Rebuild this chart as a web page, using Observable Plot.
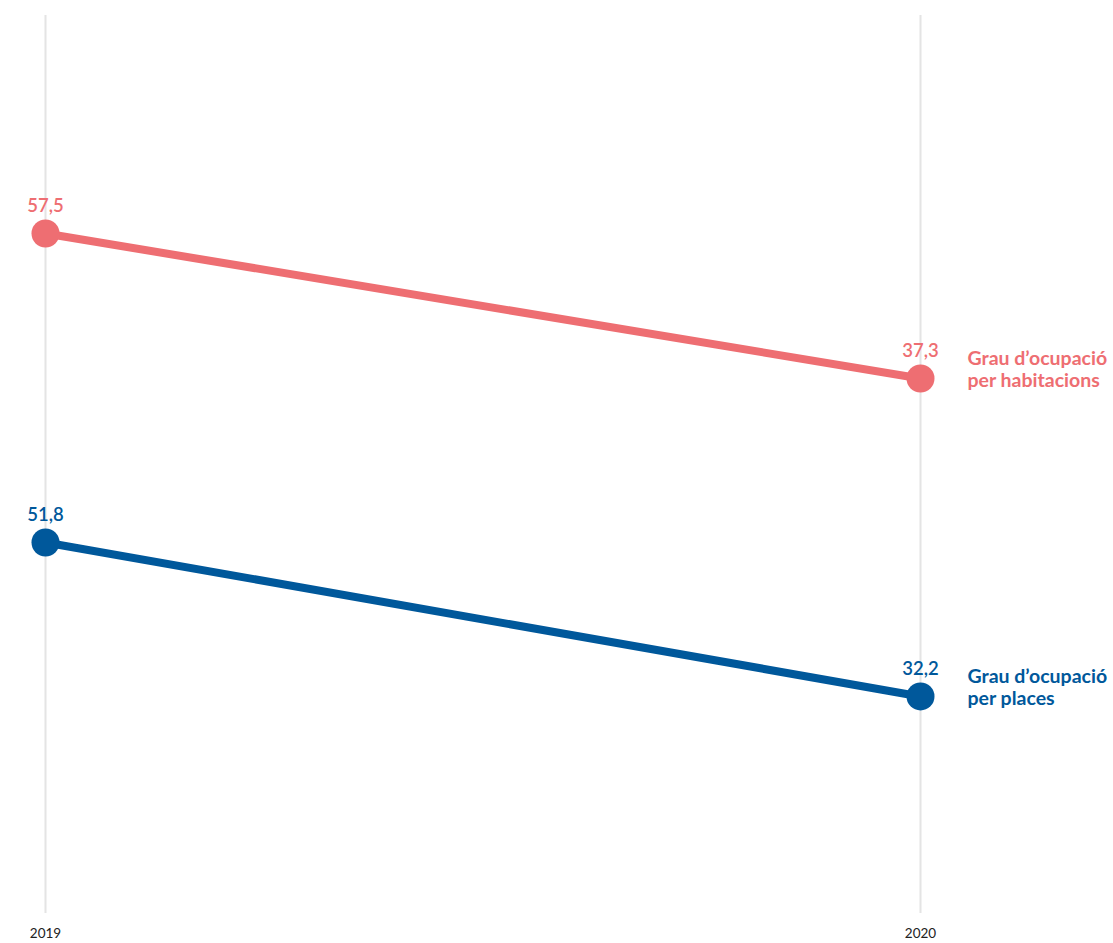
<!DOCTYPE html>
<html>
<head>
<meta charset="utf-8">
<script src="https://cdn.jsdelivr.net/npm/d3@7"></script>
<script src="https://cdn.jsdelivr.net/npm/@observablehq/plot@0.6"></script>
<style>
  body { margin: 0; background: #fff; }
  #chart { position: relative; width: 1113px; height: 943px; }
  #chart svg { position: absolute; top: 0; left: 0; }
</style>
</head>
<body>
<div id="chart"></div>
<script>
const years = [2019, 2020];
const habitacions = [57.5, 37.3];
const places = [51.8, 32.2];
const seriesNames = ["Grau d’ocupació\nper habitacions", "Grau d’ocupació\nper places"];
const seriesColors = ["#ee6e72", "#00589b"];
const tickLabels = ["2019", "2020"];

const W = 1113, H = 943;
const fmt = v => d3.format(".1f")(v).replace(".", ",");
const font = "Lato, 'Open Sans', sans-serif";

const base = Plot.plot({
  width: W, height: H,
  marginLeft: 45, marginRight: 193, marginTop: 15, marginBottom: 30,
  x: {domain: [2019, 2020]},
  y: {axis: null, domain: [0, 1]},
  style: {background: "transparent", fontFamily: font},
  marks: [
    Plot.gridX(years, {stroke: "#e4e4e4", strokeOpacity: 1, strokeWidth: 2}),
    Plot.axisX(years, {tickSize: 0, tickPadding: 15, fontSize: 13.5, fill: "#222", tickFormat: (d, i) => tickLabels[i], label: null})
  ]
});

function seriesPlot(values, color, domain, name) {
  const data = years.map((year, i) => ({year, value: values[i]}));
  return Plot.plot({
    width: W, height: H,
    marginLeft: 45, marginRight: 193, marginTop: 0, marginBottom: 0,
    x: {domain: [2019, 2020], axis: null},
    y: {domain, axis: null},
    style: {background: "transparent", fontFamily: font},
    marks: [
      Plot.line(data, {x: "year", y: "value", stroke: color, strokeWidth: 8}),
      Plot.dot(data, {x: "year", y: "value", r: 14, fill: color}),
      Plot.text(data, {x: "year", y: "value", text: d => fmt(d.value), fill: color, dy: -27, fontSize: 18.5, fontWeight: 600}),
      Plot.text(data.slice(-1), {x: "year", y: "value", text: () => name, textAnchor: "start", dx: 47, dy: -10, fill: color, fontSize: 19.5, fontWeight: "bold", lineHeight: 1.13})
    ]
  });
}

const chart = document.getElementById("chart");
chart.appendChild(base);
chart.appendChild(seriesPlot(habitacions, seriesColors[0], [-41.41, 89.96], seriesNames[0]));
chart.appendChild(seriesPlot(places, seriesColors[1], [0.76, 120.78], seriesNames[1]));
</script>
</body>
</html>
